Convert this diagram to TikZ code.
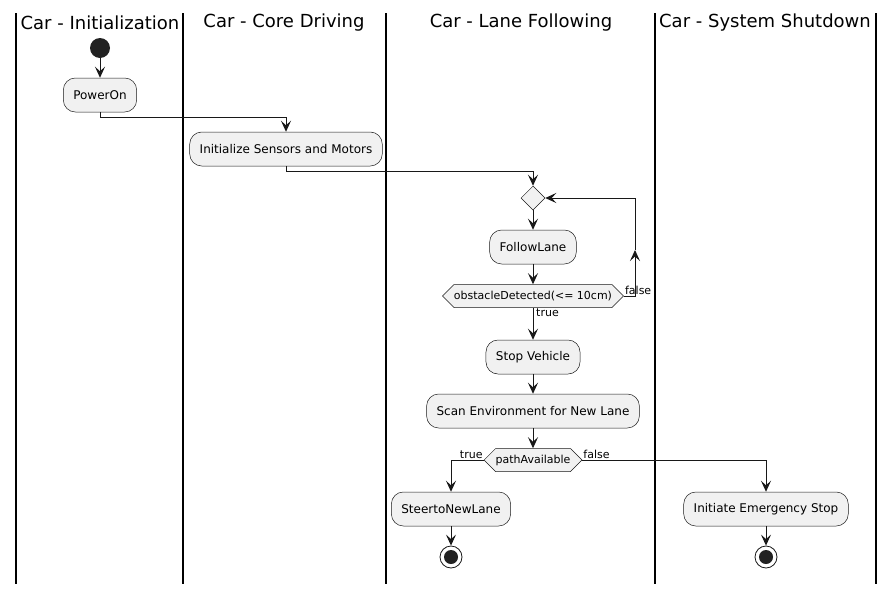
\documentclass[tikz,border=0pt]{standalone}
\usepackage{fontspec}
\setmainfont{DejaVu Sans}
\usetikzlibrary{arrows.meta, shapes.geometric, shapes.symbols}
\definecolor{boxfill}{HTML}{F1F1F1}
\definecolor{ink}{HTML}{181818}
\definecolor{dot}{HTML}{222222}

\begin{document}
\begin{tikzpicture}
            [x=1pt, y=-1pt, every node/.style={font=\fontsize{12}{14}\selectfont, text=black},
            act/.style={draw=ink, fill=boxfill, rounded corners=12pt, line width=0.5pt, minimum height=34pt, inner xsep=10pt, inner ysep=0pt},
            hexa/.style={draw=ink, fill=boxfill, signal, signal to=east and west, line width=0.5pt, minimum height=23pt, inner xsep=0pt, inner ysep=0pt, font=\fontsize{11}{13}\selectfont},
            choice/.style={draw=ink, fill=boxfill, diamond, line width=0.5pt, minimum size=24pt, inner sep=0pt},
            startnode/.style={circle, fill=dot, minimum size=20pt, inner sep=0pt},
            stopnode/.style={circle, draw=ink, fill=white, line width=0.8pt, minimum size=22pt, inner sep=0pt, path picture={\fill[dot] (path picture bounding box.center) circle (7pt);}},
            lanetitle/.style={font=\fontsize{18}{20}\selectfont},
            lbl/.style={font=\fontsize{11}{13}\selectfont, inner sep=1pt},
            lane/.style={line width=1.5pt, black},
            flow/.style={line width=1pt, ink, -{Stealth[length=11pt, width=10pt, inset=4.5pt]}}]

            \useasboundingbox (0,0) rectangle (895,595);

            \foreach \x in {16,183,386,655,876}
              \draw[lane] (\x,13) -- (\x,584);

            \node[lanetitle] (t1) at (100,23) {Car - Initialization};
            \node[lanetitle] (t2) at (284,23) {Car - Core Driving};
            \node[lanetitle] (t3) at (521,23) {Car - Lane Following};
            \node[lanetitle] (t4) at (765,23) {Car - System Shutdown};

            \node[startnode] (start) at (100,48) {};
            \node[act] (power) at (100,95) {PowerOn};
            \node[act] (init) at (286,149) {Initialize Sensors and Motors};
            \node[choice] (loop) at (533,198) {};
            \node[act] (follow) at (533,247) {FollowLane};
            \node[hexa] (obst) at (533,296) {obstacleDetected(<= 10cm)};
            \coordinate (back) at (635,250);
            \node[act] (stop) at (533,357) {Stop Vehicle};
            \node[act] (scan) at (533,411) {Scan Environment for New Lane};
            \node[hexa] (path) at (533,460) {pathAvailable};
            \node[act] (steer) at (451,509) {SteertoNewLane};
            \node[act] (emerg) at (766,509) {Initiate Emergency Stop};
            \node[stopnode] (end1) at (451,557) {};
            \node[stopnode] (end2) at (766,557) {};

            \node[lbl, anchor=south west] (f1) at (obst.east) {false};
            \node[lbl, anchor=north west] (t5) at ([xshift=2pt]obst.south) {true};
            \node[lbl, anchor=south east] (t6) at (path.west) {true};
            \node[lbl, anchor=south west] (f2) at (path.east) {false};

            \draw[flow] (start) -- (power);
            \draw[flow] (power.south) -- ++(0,5) -| (init.north);
            \draw[flow] (init.south) -- ++(0,5) -| (loop.north);
            \draw[flow] (loop.south) -- (follow.north);
            \draw[flow] (follow.south) -- (obst.north);
            \draw[flow] (obst.east) -| (back);
            \draw[flow] (back) |- (loop.east);
            \draw[flow] (obst.south) -- (stop.north);
            \draw[flow] (stop.south) -- (scan.north);
            \draw[flow] (scan.south) -- (path.north);
            \draw[flow] (path.west) -| (steer.north);
            \draw[flow] (path.east) -| (emerg.north);
            \draw[flow] (steer.south) -- (end1);
            \draw[flow] (emerg.south) -- (end2);
          \end{tikzpicture}
\end{document}
